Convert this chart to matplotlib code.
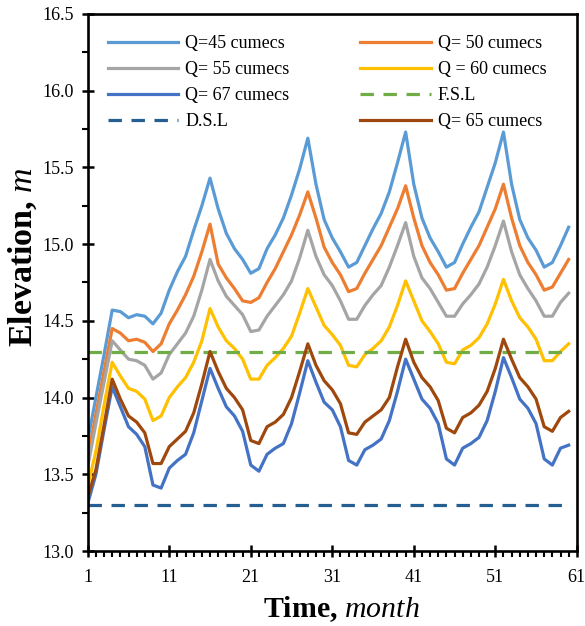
import matplotlib
matplotlib.use("Agg")
import matplotlib.pyplot as plt
from matplotlib.ticker import MultipleLocator, FixedLocator

months = list(range(1, 61))

q45 = [13.72, 14.00, 14.28, 14.57, 14.56, 14.52, 14.54, 14.53, 14.48, 14.55,
       14.70, 14.82, 14.92, 15.09, 15.25, 15.43, 15.23, 15.07, 14.97, 14.90,
       14.81, 14.84, 14.97, 15.06, 15.17, 15.32, 15.49, 15.69, 15.39, 15.16,
       15.04, 14.95, 14.85, 14.88, 14.99, 15.10, 15.20, 15.34, 15.53, 15.73,
       15.39, 15.17, 15.04, 14.95, 14.85, 14.88, 15.00, 15.11, 15.21, 15.37,
       15.53, 15.73, 15.39, 15.16, 15.04, 14.96, 14.85, 14.88, 14.99, 15.11]
q50 = [13.61, 13.89, 14.17, 14.45, 14.42, 14.37, 14.38, 14.36, 14.30, 14.35,
       14.48, 14.57, 14.67, 14.79, 14.95, 15.13, 14.87, 14.78, 14.71, 14.63,
       14.62, 14.65, 14.75, 14.84, 14.95, 15.06, 15.19, 15.34, 15.17, 14.98,
       14.88, 14.80, 14.69, 14.71, 14.81, 14.90, 14.99, 15.11, 15.23, 15.38,
       15.17, 14.99, 14.88, 14.80, 14.70, 14.71, 14.81, 14.90, 14.99, 15.11,
       15.23, 15.39, 15.17, 14.99, 14.88, 14.80, 14.70, 14.72, 14.81, 14.90]
q55 = [13.55, 13.83, 14.10, 14.37, 14.31, 14.25, 14.24, 14.21, 14.12, 14.16,
       14.28, 14.35, 14.42, 14.53, 14.70, 14.90, 14.76, 14.66, 14.60, 14.54,
       14.43, 14.44, 14.53, 14.60, 14.67, 14.76, 14.91, 15.09, 14.92, 14.80,
       14.73, 14.63, 14.51, 14.51, 14.60, 14.67, 14.73, 14.85, 14.99, 15.14,
       14.92, 14.78, 14.71, 14.62, 14.53, 14.53, 14.61, 14.67, 14.74, 14.85,
       14.99, 15.15, 14.95, 14.80, 14.71, 14.63, 14.53, 14.53, 14.62, 14.68]
q60 = [13.42, 13.65, 13.95, 14.23, 14.14, 14.06, 14.04, 13.99, 13.85, 13.88,
       14.00, 14.07, 14.13, 14.23, 14.37, 14.58, 14.46, 14.37, 14.32, 14.25,
       14.12, 14.12, 14.21, 14.26, 14.32, 14.40, 14.55, 14.71, 14.59, 14.47,
       14.41, 14.34, 14.21, 14.20, 14.28, 14.32, 14.37, 14.46, 14.60, 14.76,
       14.63, 14.50, 14.43, 14.35, 14.23, 14.22, 14.31, 14.34, 14.39, 14.48,
       14.61, 14.77, 14.63, 14.52, 14.46, 14.38, 14.24, 14.24, 14.30, 14.35]
q67 = [13.31, 13.50, 13.79, 14.07, 13.94, 13.81, 13.76, 13.68, 13.43, 13.41,
       13.54, 13.59, 13.63, 13.77, 13.98, 14.19, 14.06, 13.94, 13.88, 13.78,
       13.56, 13.52, 13.63, 13.67, 13.70, 13.83, 14.03, 14.24, 14.10, 13.97,
       13.92, 13.81, 13.59, 13.56, 13.66, 13.69, 13.73, 13.85, 14.04, 14.25,
       14.12, 13.99, 13.93, 13.83, 13.60, 13.56, 13.67, 13.70, 13.74, 13.85,
       14.04, 14.26, 14.13, 13.99, 13.93, 13.83, 13.60, 13.56, 13.67, 13.69]
q65 = [13.35, 13.53, 13.82, 14.12, 13.99, 13.88, 13.84, 13.77, 13.57, 13.57,
       13.68, 13.73, 13.78, 13.90, 14.09, 14.30, 14.17, 14.06, 14.00, 13.92,
       13.72, 13.70, 13.81, 13.84, 13.89, 14.00, 14.17, 14.35, 14.21, 14.11,
       14.05, 13.96, 13.77, 13.76, 13.84, 13.88, 13.92, 14.00, 14.20, 14.38,
       14.23, 14.13, 14.07, 13.98, 13.80, 13.77, 13.87, 13.90, 13.95, 14.04,
       14.19, 14.38, 14.25, 14.13, 14.07, 13.99, 13.81, 13.78, 13.87, 13.91]
fsl_level = 14.3
dsl_level = 13.3

labels = ["Q=45 cumecs", "Q= 50 cumecs", "Q= 55 cumecs", "Q = 60 cumecs",
          "Q= 67 cumecs", "F.S.L", "D.S.L", "Q= 65 cumecs"]
x_ticks = [1, 11, 21, 31, 41, 51, 61]
y_ticks = [13.0, 13.5, 14.0, 14.5, 15.0, 15.5, 16.0, 16.5]

plt.rcParams['font.family'] = ['Liberation Serif', 'DejaVu Serif']
plt.rcParams['mathtext.fontset'] = 'custom'
plt.rcParams['mathtext.it'] = 'Liberation Serif:italic'
plt.rcParams['mathtext.rm'] = 'Liberation Serif'

fig = plt.figure(figsize=(5.85, 6.26), dpi=100)
ax = fig.add_axes([0.150, 0.1198, 0.836, 0.858])

lw = 2.3
h = {}
h[0], = ax.plot(months, q45, color='#5B9BD5', lw=lw)
h[1], = ax.plot(months, q50, color='#ED7D31', lw=lw)
h[2], = ax.plot(months, q55, color='#A5A5A5', lw=lw)
h[3], = ax.plot(months, q60, color='#FFC000', lw=lw)
h[4], = ax.plot(months, q67, color='#4472C4', lw=lw)
h[5], = ax.plot(months, [fsl_level] * len(months), color='#70AD47', lw=lw,
                dashes=(4.2, 3.0))
h[6], = ax.plot(months, [dsl_level] * len(months), color='#255E91', lw=lw,
                dashes=(4.2, 3.0))
h[7], = ax.plot(months, q65, color='#9E480E', lw=lw)

ax.set_xlim(1, 61)
ax.set_ylim(13.0, 16.5)
ax.xaxis.set_major_locator(FixedLocator(x_ticks))
ax.xaxis.set_minor_locator(MultipleLocator(1))
ax.yaxis.set_major_locator(FixedLocator(y_ticks))
ax.yaxis.set_minor_locator(MultipleLocator(0.25))
ax.set_xticklabels([str(t) for t in x_ticks])
ax.set_yticklabels([f"{t:.1f}" for t in y_ticks])

ax.tick_params(which='major', direction='inout', length=8, width=1.8,
               labelsize=13, pad=6)
ax.tick_params(which='minor', direction='out', length=4, width=1.5)
ax.tick_params(axis='x', which='major', pad=9)
for s in ax.spines.values():
    s.set_linewidth(1.9)

ax.set_xlabel(r"Time, $\mathit{month}$", fontsize=21.5, fontweight='bold')
ax.set_ylabel(r"Elevation, $\mathit{m}$", fontsize=24.5, fontweight='bold')
ax.xaxis.label.set_va('center')
ax.yaxis.label.set_va('center')
ax.xaxis.set_label_coords(0.519, -0.108)
ax.yaxis.set_label_coords(-0.133, 0.547)

order = [0, 2, 4, 6, 1, 3, 5, 7]
ax.legend([h[i] for i in order], [labels[i] for i in order], ncol=2,
          loc='upper left', bbox_to_anchor=(0.041, 0.960), frameon=False,
          fontsize=13, borderpad=0, borderaxespad=0, handlelength=3.9,
          handletextpad=0.4, columnspacing=3.9, labelspacing=0.50)

fig.savefig("out.png", dpi=100, facecolor='white')
